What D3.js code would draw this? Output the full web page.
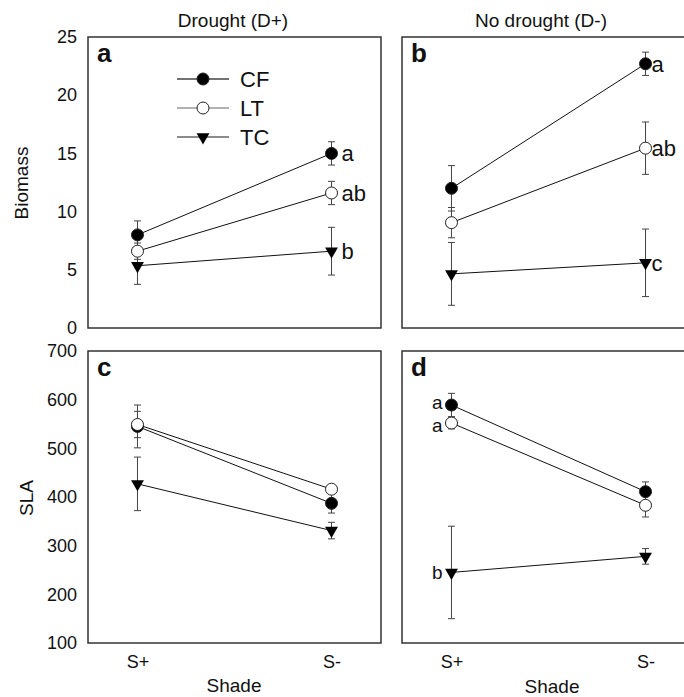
<!DOCTYPE html>
<html><head><meta charset="utf-8">
<script src="https://cdn.jsdelivr.net/npm/d3@7"></script>
<style>body{margin:0;background:#fff}svg{display:block;font-family:Arial,"Liberation Sans",sans-serif}</style>
</head><body><svg id="c" width="684" height="697"></svg>
<script>
const shade = ["S+", "S-"];
const series = ["CF", "LT", "TC"];
const biomassTicks = [0, 5, 10, 15, 20, 25];
const slaTicks = [100, 200, 300, 400, 500, 600, 700];

// Biomass, drought (D+)
const bioD_CF = [8.0, 15.0],  bioD_CF_se = [1.2, 1.0];
const bioD_LT = [6.6, 11.6],  bioD_LT_se = [0.7, 1.0];
const bioD_TC = [5.35, 6.6],  bioD_TC_se = [1.6, 2.05];
// Biomass, no drought (D-)
const bioN_CF = [12.0, 22.7], bioN_CF_se = [1.95, 1.0];
const bioN_LT = [9.05, 15.45], bioN_LT_se = [1.3, 2.25];
const bioN_TC = [4.65, 5.6],  bioN_TC_se = [2.7, 2.9];
// SLA, drought (D+)
const slaD_CF = [545, 387], slaD_CF_se = [44, 20];
const slaD_LT = [549, 416], slaD_LT_se = [27, 8];
const slaD_TC = [427, 331], slaD_TC_se = [55, 17];
// SLA, no drought (D-)
const slaN_CF = [589, 411], slaN_CF_se = [24, 20];
const slaN_LT = [552, 383], slaN_LT_se = [12, 24];
const slaN_TC = [245, 278], slaN_TC_se = [95, 16];

// significance letters: [letter, series, shade index, vertical nudge]
const lettersA = [["a","CF",1,0],["ab","LT",1,0],["b","TC",1,0]];
const lettersB = [["a","CF",1,0],["ab","LT",1,0],["c","TC",1,0]];
const lettersD = [["a","CF",0,-2.5],["a","LT",0,2.5],["b","TC",0,0]];

const svg = d3.select("#c");

function panel(opt) {
  const g = svg.append("g");
  const x = d3.scalePoint().domain(shade).range([opt.x0, opt.x0 + opt.w]).padding(0.255);
  const y = d3.scaleLinear().domain(opt.domain).range([opt.y0 + opt.h, opt.y0]);
  g.append("rect").attr("x", opt.x0).attr("y", opt.y0).attr("width", opt.w).attr("height", opt.h)
    .attr("fill", "none").attr("stroke", "#333").attr("stroke-width", 1.5);
  if (opt.ticks) {
    const ax = g.append("g").attr("transform", `translate(${opt.x0},0)`)
      .call(d3.axisLeft(y).tickValues(opt.ticks).tickSize(0).tickPadding(11));
    ax.select(".domain").remove();
    ax.selectAll("text").attr("font-size", 18).attr("fill", "#111").attr("font-family", "Arial, Liberation Sans, sans-serif");
  }
  if (opt.xticks) {
    const ax = g.append("g").attr("transform", `translate(0,${opt.y0 + opt.h})`)
      .call(d3.axisBottom(x).tickSize(0).tickPadding(12));
    ax.select(".domain").remove();
    ax.selectAll("text").attr("font-size", 18).attr("fill", "#111").attr("dy", "0.71em").attr("font-family", "Arial, Liberation Sans, sans-serif");
  }
  const data = opt.data;
  series.forEach(s => {
    const [m] = data[s];
    g.append("path").attr("d", d3.line().x((d, i) => x(shade[i])).y(d => y(d))(m))
      .attr("fill", "none").attr("stroke", "#111").attr("stroke-width", 1);
  });
  series.forEach(s => {
    const [m, se] = data[s];
    m.forEach((v, i) => {
      const cx = x(shade[i]);
      const e = g.append("g").attr("stroke", "#444").attr("stroke-width", 1);
      e.append("line").attr("x1", cx).attr("x2", cx).attr("y1", y(v - se[i])).attr("y2", y(v + se[i]));
      [v - se[i], v + se[i]].forEach(t => e.append("line").attr("x1", cx - 3.5).attr("x2", cx + 3.5).attr("y1", y(t)).attr("y2", y(t)));
    });
  });
  series.forEach(s => {
    const [m] = data[s];
    m.forEach((v, i) => marker(g, s, x(shade[i]), y(v)));
  });
  (opt.letters || []).forEach(([t, s, i, nudge]) => {
    const v = data[s][0][i];
    const left = i === 0;
    g.append("text").attr("x", x(shade[i]) + (left ? -opt.lOff : opt.lOff)).attr("y", y(v) + nudge).attr("dy", "0.36em")
      .attr("text-anchor", left ? "end" : "start").attr("font-size", opt.lSize || 22).attr("fill", "#111").text(t);
  });
  g.append("text").attr("x", opt.x0 + 9).attr("y", opt.y0 + 25).attr("font-size", 26).attr("font-weight", "bold")
    .attr("fill", "#111").text(opt.label);
  return {g, x, y};
}

function marker(g, s, cx, cy) {
  if (s === "TC") {
    g.append("path").attr("d", d3.symbol(d3.symbolTriangle, 72)()).attr("transform", `translate(${cx},${cy}) rotate(180)`)
      .attr("fill", "#000");
  } else {
    g.append("circle").attr("cx", cx).attr("cy", cy).attr("r", 6)
      .attr("fill", s === "CF" ? "#000" : "#fff").attr("stroke", "#222").attr("stroke-width", 1);
  }
}

const W = 293;
panel({x0: 88, y0: 37, w: W, h: 291, domain: [0, 25], ticks: biomassTicks, label: "a", lOff: 10, letters: lettersA,
  data: {CF: [bioD_CF, bioD_CF_se], LT: [bioD_LT, bioD_LT_se], TC: [bioD_TC, bioD_TC_se]}});
panel({x0: 402, y0: 37, w: W, h: 291, domain: [0, 25], label: "b", lOff: 6, letters: lettersB,
  data: {CF: [bioN_CF, bioN_CF_se], LT: [bioN_LT, bioN_LT_se], TC: [bioN_TC, bioN_TC_se]}});
panel({x0: 88, y0: 351, w: W, h: 292, domain: [100, 700], ticks: slaTicks, xticks: true, label: "c", lOff: 10,
  data: {CF: [slaD_CF, slaD_CF_se], LT: [slaD_LT, slaD_LT_se], TC: [slaD_TC, slaD_TC_se]}});
panel({x0: 402, y0: 351, w: W, h: 292, domain: [100, 700], xticks: true, label: "d", lOff: 9, lSize: 19, letters: lettersD,
  data: {CF: [slaN_CF, slaN_CF_se], LT: [slaN_LT, slaN_LT_se], TC: [slaN_TC, slaN_TC_se]}});

// legend
const legStroke = {CF: "#444", LT: "#999", TC: "#666"};
series.forEach((s, i) => {
  const ly = 79 + i * 29;
  svg.append("line").attr("x1", 177).attr("x2", 229).attr("y1", ly).attr("y2", ly)
    .attr("stroke", legStroke[s]).attr("stroke-width", 1.5);
  marker(svg, s, 203, ly);
  svg.append("text").attr("x", 240).attr("y", ly).attr("dy", "0.36em").attr("font-size", 22).attr("fill", "#111").text(s);
});

// titles
const t = (x, y, txt, size, rot) => {
  const e = svg.append("text").attr("text-anchor", "middle").attr("font-size", size).attr("fill", "#111").text(txt);
  if (rot) e.attr("transform", `translate(${x},${y}) rotate(-90)`); else e.attr("x", x).attr("y", y);
};
t(233, 27, "Drought (D+)", 19);
t(541, 27, "No drought (D-)", 19);
t(28, 183, "Biomass", 19, true);
t(33, 498, "SLA", 19, true);
t(234, 692, "Shade", 19);
t(552, 693, "Shade", 19);
</script></body></html>
